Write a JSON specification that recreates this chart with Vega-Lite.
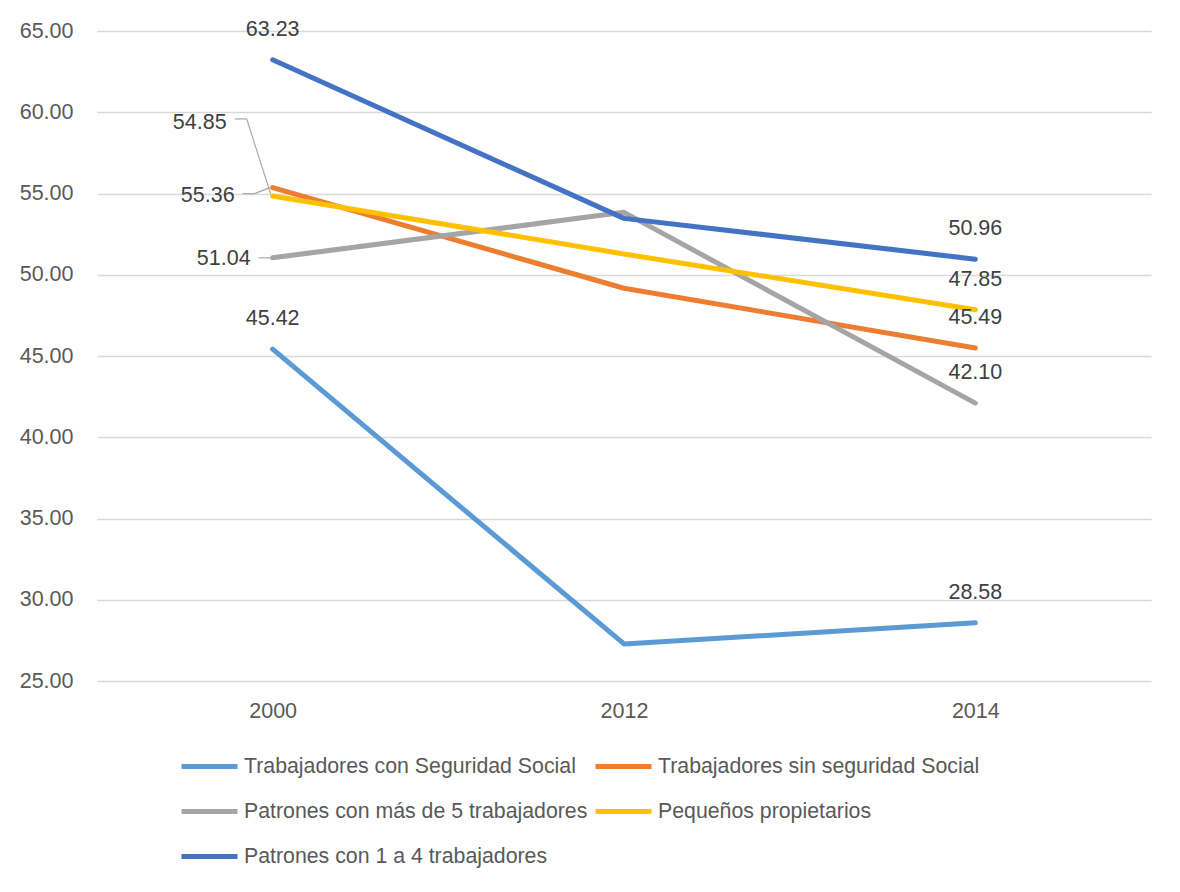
{
  "$schema": "https://vega.github.io/schema/vega-lite/v6.json",
  "width": 1054,
  "height": 650,
  "autosize": {"type": "none"},
  "padding": {"left": 97, "top": 31, "right": 29, "bottom": 211},
  "background": "#ffffff",
  "config": {
    "font": "Liberation Sans",
    "view": {"stroke": null},
    "axis": {
      "labelFont": "Liberation Sans",
      "labelFontSize": 21.5,
      "labelColor": "#595959",
      "domain": false,
      "ticks": false,
      "tickSize": 0,
      "title": null
    },
    "legend": {
      "orient": "none",
      "direction": "horizontal",
      "legendX": 82,
      "legendY": 705,
      "columns": 2,
      "padding": 0,
      "symbolType": "stroke",
      "symbolSize": 3136,
      "symbolStrokeWidth": 5,
      "labelFont": "Liberation Sans",
      "labelFontSize": 21.3,
      "labelColor": "#595959",
      "labelOffset": 4,
      "labelLimit": 0,
      "columnPadding": -3,
      "rowPadding": 4,
      "title": null
    }
  },
  "data": {
    "values": [
      {"series": "Trabajadores con Seguridad Social", "year": "2000", "value": 45.42},
      {"series": "Trabajadores con Seguridad Social", "year": "2012", "value": 27.28},
      {"series": "Trabajadores con Seguridad Social", "year": "2014", "value": 28.58},
      {"series": "Trabajadores sin seguridad Social", "year": "2000", "value": 55.36},
      {"series": "Trabajadores sin seguridad Social", "year": "2012", "value": 49.17},
      {"series": "Trabajadores sin seguridad Social", "year": "2014", "value": 45.49},
      {"series": "Patrones con más de 5 trabajadores", "year": "2000", "value": 51.04},
      {"series": "Patrones con más de 5 trabajadores", "year": "2012", "value": 53.84},
      {"series": "Patrones con más de 5 trabajadores", "year": "2014", "value": 42.10},
      {"series": "Pequeños propietarios", "year": "2000", "value": 54.85},
      {"series": "Pequeños propietarios", "year": "2012", "value": 51.28},
      {"series": "Pequeños propietarios", "year": "2014", "value": 47.85},
      {"series": "Patrones con 1 a 4 trabajadores", "year": "2000", "value": 63.23},
      {"series": "Patrones con 1 a 4 trabajadores", "year": "2012", "value": 53.47},
      {"series": "Patrones con 1 a 4 trabajadores", "year": "2014", "value": 50.96}
    ]
  },
  "encoding": {
    "x": {
      "field": "year",
      "type": "ordinal",
      "scale": {"type": "point", "padding": 0.5},
      "axis": {"labelAngle": 0, "labelPadding": 19, "grid": false}
    },
    "y": {
      "field": "value",
      "type": "quantitative",
      "scale": {"domain": [25, 65], "nice": false, "zero": false},
      "axis": {
        "values": [25, 30, 35, 40, 45, 50, 55, 60, 65],
        "format": ".2f",
        "labelPadding": 24,
        "grid": true,
        "gridColor": "#D9D9D9",
        "gridWidth": 1.3
      }
    }
  },
  "layer": [
    {
      "mark": {"type": "line", "strokeWidth": 5, "strokeCap": "round", "strokeJoin": "round"},
      "encoding": {
        "color": {
          "field": "series",
          "type": "nominal",
          "sort": null,
          "scale": {
            "domain": [
              "Trabajadores con Seguridad Social",
              "Trabajadores sin seguridad Social",
              "Patrones con más de 5 trabajadores",
              "Pequeños propietarios",
              "Patrones con 1 a 4 trabajadores"
            ],
            "range": ["#5B9BD5", "#ED7D31", "#A5A5A5", "#FFC000", "#4472C4"]
          }
        }
      }
    },
    {
      "transform": [
        {"filter": "datum.year == '2014' || (datum.year == '2000' && (datum.series == 'Trabajadores con Seguridad Social' || datum.series == 'Patrones con 1 a 4 trabajadores'))"}
      ],
      "mark": {"type": "text", "fontSize": 21.5, "color": "#404040", "baseline": "alphabetic", "dy": -24},
      "encoding": {"text": {"field": "value", "type": "quantitative", "format": ".2f"}}
    },
    {
      "transform": [{"filter": "datum.year == '2000' && datum.series == 'Patrones con más de 5 trabajadores'"}],
      "mark": {"type": "text", "fontSize": 21.5, "color": "#404040", "baseline": "alphabetic", "align": "right", "dx": -22, "dy": 7},
      "encoding": {"text": {"field": "value", "type": "quantitative", "format": ".2f"}}
    },
    {
      "transform": [{"filter": "datum.year == '2000' && datum.series == 'Patrones con más de 5 trabajadores'"}],
      "mark": {"type": "rule", "color": "#A6A6A6", "strokeWidth": 1.2, "xOffset": -14, "x2Offset": -2, "yOffset": 0, "y2Offset": 0},
      "encoding": {"x2": {"field": "year"}, "y2": {"field": "value"}}
    },
    {
      "transform": [{"filter": "datum.year == '2000' && datum.series == 'Trabajadores sin seguridad Social'"}],
      "mark": {"type": "text", "fontSize": 21.5, "color": "#404040", "baseline": "alphabetic", "align": "right", "dx": -38, "dy": 14},
      "encoding": {"text": {"field": "value", "type": "quantitative", "format": ".2f"}}
    },
    {
      "transform": [{"filter": "datum.year == '2000' && datum.series == 'Trabajadores sin seguridad Social'"}],
      "mark": {"type": "rule", "color": "#A6A6A6", "strokeWidth": 1.2, "xOffset": -30, "x2Offset": -18, "yOffset": 6, "y2Offset": 6},
      "encoding": {"x2": {"field": "year"}, "y2": {"field": "value"}}
    },
    {
      "transform": [{"filter": "datum.year == '2000' && datum.series == 'Trabajadores sin seguridad Social'"}],
      "mark": {"type": "rule", "color": "#A6A6A6", "strokeWidth": 1.2, "xOffset": -18, "x2Offset": -3, "yOffset": 6, "y2Offset": 0},
      "encoding": {"x2": {"field": "year"}, "y2": {"field": "value"}}
    },
    {
      "transform": [{"filter": "datum.year == '2000' && datum.series == 'Pequeños propietarios'"}],
      "mark": {"type": "text", "fontSize": 21.5, "color": "#404040", "baseline": "alphabetic", "align": "right", "dx": -46, "dy": -67},
      "encoding": {"text": {"field": "value", "type": "quantitative", "format": ".2f"}}
    },
    {
      "transform": [{"filter": "datum.year == '2000' && datum.series == 'Pequeños propietarios'"}],
      "mark": {"type": "rule", "color": "#A6A6A6", "strokeWidth": 1.2, "xOffset": -38, "x2Offset": -26, "yOffset": -77, "y2Offset": -77},
      "encoding": {"x2": {"field": "year"}, "y2": {"field": "value"}}
    },
    {
      "transform": [{"filter": "datum.year == '2000' && datum.series == 'Pequeños propietarios'"}],
      "mark": {"type": "rule", "color": "#A6A6A6", "strokeWidth": 1.2, "xOffset": -26, "x2Offset": -2, "yOffset": -77, "y2Offset": -2},
      "encoding": {"x2": {"field": "year"}, "y2": {"field": "value"}}
    }
  ]
}
